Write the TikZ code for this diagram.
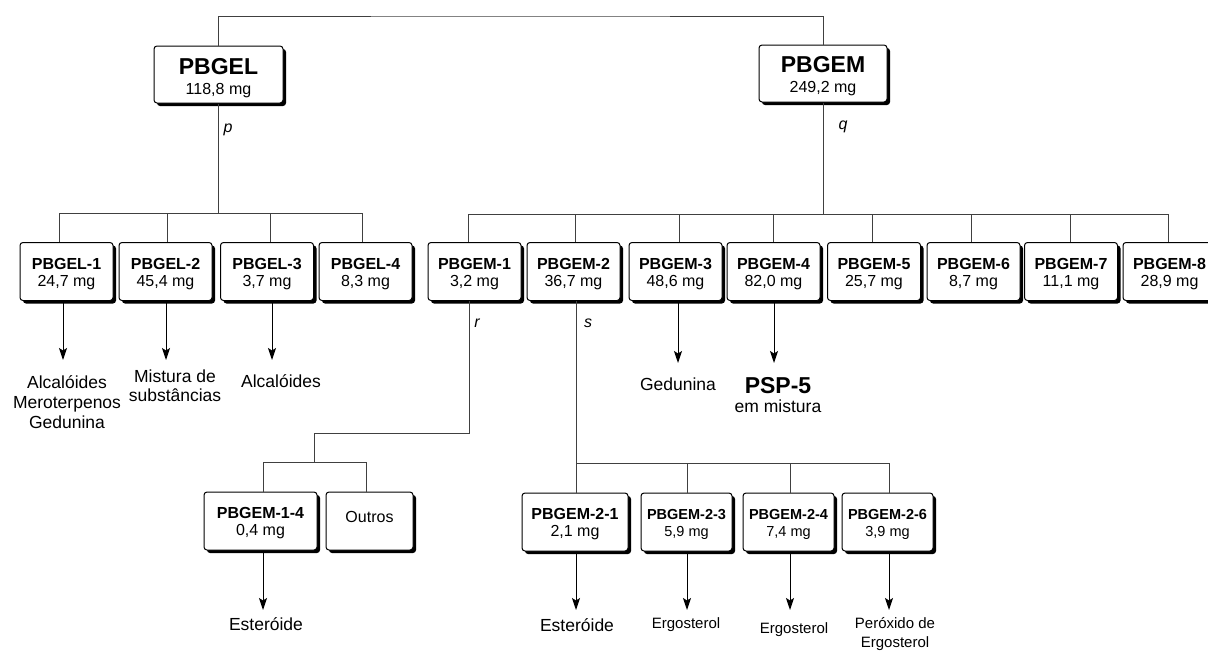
\documentclass[tikz,border=0pt]{standalone}
\usepackage{fontspec}
\setmainfont{Liberation Sans}
\usetikzlibrary{shadows,arrows.meta}
\newcommand\mgu{m\smash{g}}
\newcommand\tpad[1]{\rule{0pt}{#1}}
\begin{document}
\begin{tikzpicture}[x=1pt,y=-1pt,
 box/.style={draw=black,line width=1pt,rounded corners=3pt,fill=white,
   drop shadow={shadow xshift=3pt,shadow yshift=-3pt,fill=black,opacity=1},
   align=center,inner sep=0pt,minimum height=58pt},
 sbox/.style={box,minimum width=93pt,font=\fontsize{16}{17.5}\selectfont},
 mbox/.style={box,minimum width=129pt,minimum height=57pt,font=\fontsize{16}{20}\selectfont},
 tbox/.style={box,minimum width=91pt,font=\fontsize{14.5}{17}\selectfont},
 conn/.style={draw=black!75,line width=1pt},
 arr/.style={draw=black,line width=1pt,-{Stealth[length=12pt,width=8pt,inset=2.5pt]}},
 lab/.style={font=\fontsize{17.5}{20}\selectfont,align=center,inner sep=0pt},
 slab/.style={font=\fontsize{15}{19}\selectfont,align=center,inner sep=0pt},
 lett/.style={font=\fontsize{16}{16}\selectfont\itshape,inner sep=0pt}]
\useasboundingbox (0,0) rectangle (1208,653);
\clip (0,0) rectangle (1208,653);

% main boxes
\node[mbox] (PBGEL) at (218.5,74.5) {{\fontsize{23}{23}\selectfont\bfseries\tpad{22pt}PBGEL}\\118,8 \mgu};
\node[mbox,minimum width=128pt] (PBGEM) at (823,73.5) {{\fontsize{23}{23}\selectfont\bfseries\tpad{21pt}PBGEM}\\249,2 \mgu};

% left tier
\node[sbox] (L1) at (66.5,271.5) {\textbf{\tpad{15.5pt}PBGEL-1}\\24,7 \mgu};
\node[sbox] (L2) at (165.5,271.5) {\textbf{\tpad{15pt}PBGEL-2}\\45,4 \mgu};
\node[sbox] (L3) at (267,271.5) {\textbf{\tpad{15.5pt}PBGEL-3}\\3,7 \mgu};
\node[sbox] (L4) at (365.5,271.5) {\textbf{\tpad{15.5pt}PBGEL-4}\\8,3 \mgu};

% right tier
\node[sbox] (M1) at (474.5,271.5) {\textbf{\tpad{15pt}PBGEM-1}\\3,2 \mgu};
\node[sbox] (M2) at (573.5,271.5) {\textbf{\tpad{15pt}PBGEM-2}\\36,7 \mgu};
\node[sbox] (M3) at (675.5,271.5) {\textbf{\tpad{15pt}PBGEM-3}\\48,6 \mgu};
\node[sbox] (M4) at (773.5,271.5) {\textbf{\tpad{15pt}PBGEM-4}\\82,0 \mgu};
\node[sbox] (M5) at (874,271.5) {\textbf{\tpad{15pt}PBGEM-5}\\25,7 \mgu};
\node[sbox] (M6) at (973.5,271.5) {\textbf{\tpad{15pt}PBGEM-6}\\8,7 \mgu};
\node[sbox] (M7) at (1071,271.5) {\textbf{\tpad{15pt}PBGEM-7}\\11,1 \mgu};
\node[sbox] (M8) at (1169.5,271.5) {\textbf{\tpad{15pt}PBGEM-8}\\28,9 \mgu};

% sub tiers
\node[sbox,minimum width=113pt] (S14) at (260.5,521) {\textbf{\tpad{14pt}PBGEM-1-4}\\0,4 \mgu};
\node[sbox,minimum width=87pt] (OUT) at (369.5,521) {Outros\rule[-8pt]{0pt}{0pt}};
\node[sbox,minimum width=106pt] (S21) at (575,522) {\textbf{\tpad{14pt}PBGEM-2-1}\\2,1 \mgu};
\node[tbox] (S23) at (686.5,522) {\textbf{\tpad{13pt}PBGEM-2-3}\\5,9 \mgu};
\node[tbox] (S24) at (788.5,522) {\textbf{\tpad{13pt}PBGEM-2-4}\\7,4 \mgu};
\node[tbox] (S26) at (887.5,522) {\textbf{\tpad{13pt}PBGEM-2-6}\\3,9 \mgu};

% top connector
\coordinate (t) at (520,16);
\draw[conn] (PBGEL.north) |- (t) -| (PBGEM.north);

% left bus
\coordinate (bL) at (218.5,213);
\draw[conn] (PBGEL.south) -- (bL);
\draw[conn] ([xshift=-7.5pt]L1.north) |- ([xshift=-3.5pt]L4.north |- bL) -- ([xshift=-3.5pt]L4.north);
\draw[conn] ([xshift=1.5pt]L2.north) -- ([xshift=1.5pt]L2.north |- bL);
\draw[conn] ([xshift=3pt]L3.north) -- ([xshift=3pt]L3.north |- bL);

% right bus
\coordinate (bR) at (823,214);
\draw[conn] (PBGEM.south) -- (bR);
\draw[conn] ([xshift=-6.5pt]M1.north) |- ([xshift=-1.5pt]M8.north |- bR) -- ([xshift=-1.5pt]M8.north);
\draw[conn] ([xshift=1.5pt]M2.north) -- ([xshift=1.5pt]M2.north |- bR);
\draw[conn] ([xshift=3.5pt]M3.north) -- ([xshift=3.5pt]M3.north |- bR);
\draw[conn] ([xshift=-0.5pt]M4.north) -- ([xshift=-0.5pt]M4.north |- bR);
\draw[conn] ([xshift=-2pt]M5.north) -- ([xshift=-2pt]M5.north |- bR);
\draw[conn] ([xshift=-2.5pt]M6.north) -- ([xshift=-2.5pt]M6.north |- bR);
\draw[conn] ([xshift=-1pt]M7.north) -- ([xshift=-1pt]M7.north |- bR);

% PBGEM-1 branch
\coordinate (k1) at (314,433);
\coordinate (bS) at (314,462);
\draw[conn] ([xshift=-5.5pt]M1.south) |- (k1) -- (bS);
\draw[conn] ([xshift=2.5pt]S14.north) |- ([xshift=-3.5pt]OUT.north |- bS) -- ([xshift=-3.5pt]OUT.north);

% PBGEM-2 branch
\coordinate (bT) at (576,463);
\draw[conn] ([xshift=2.5pt]M2.south) -- ([xshift=1pt]S21.north);
\draw[conn] (bT) -| ([xshift=1.5pt]S26.north);
\draw[conn] ([xshift=0.5pt]S23.north) -- ([xshift=0.5pt]S23.north |- bT);
\draw[conn] ([xshift=1.5pt]S24.north) -- ([xshift=1.5pt]S24.north |- bT);

% letters
\node[lett] (lp) at (228,130) {p};
\node[lett] (lq) at (843,127) {q};
\node[lett] (lr) at (477,323) {r};
\node[lett] (ls) at (588,323) {s};

% arrow end points
\coordinate (a1) at (63,360);
\coordinate (a2) at (166,360);
\coordinate (a3) at (272,360);
\coordinate (a4) at (678,363);
\coordinate (a5) at (774,363);
\coordinate (a6) at (263,610);
\coordinate (a7) at (576,610);
\coordinate (a8) at (687,610);
\coordinate (a9) at (790,610);
\coordinate (a10) at (889,610);

\draw[arr] (L1.south -| a1) -- (a1);
\draw[arr] (L2.south -| a2) -- (a2);
\draw[arr] (L3.south -| a3) -- (a3);
\draw[arr] (M3.south -| a4) -- (a4);
\draw[arr] (M4.south -| a5) -- (a5);
\draw[arr] (S14.south -| a6) -- (a6);
\draw[arr] (S21.south -| a7) -- (a7);
\draw[arr] (S23.south -| a8) -- (a8);
\draw[arr] (S24.south -| a9) -- (a9);
\draw[arr] (S26.south -| a10) -- (a10);

% result labels
\node[lab] (rA) at (67,402) {Alcalóides\\Meroterpenos\\Gedunina};
\node[lab,font=\fontsize{17.5}{19}\selectfont] (rB) at (175,385.5) {Mistura de\\substâncias};
\node[lab] (rC) at (281,381) {Alcalóides};
\node[lab] (rG) at (678,384) {Gedunina};
\node[font=\fontsize{23}{23}\selectfont\bfseries,inner sep=0pt] (rP) at (778,386) {PSP-5};
\node[lab] (rM) at (778,406) {em mistura};
\node[lab] (rE1) at (266,624) {Esteróide};
\node[lab] (rE2) at (577,625) {Esteróide};
\node[slab] (rE3) at (686,625) {Ergosterol};
\node[slab] (rE4) at (794,630) {Ergosterol};
\node[slab] (rE5) at (895,634.5) {Peróxido de\\Ergosterol};
\end{tikzpicture}
\end{document}
